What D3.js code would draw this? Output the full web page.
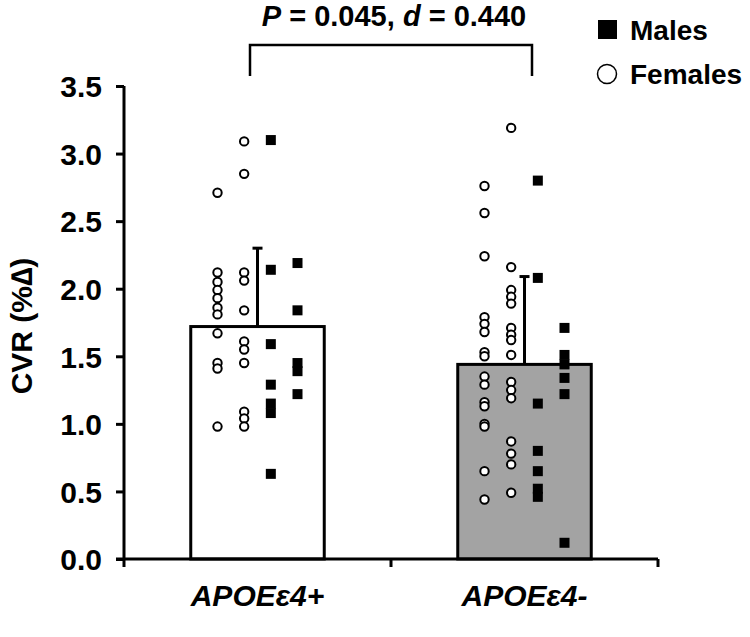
<!DOCTYPE html>
<html><head><meta charset="utf-8">
<script src="https://cdn.jsdelivr.net/npm/d3@7"></script>
<style>body{margin:0;background:#fff}svg{display:block}text{font-family:"Liberation Sans",Arial,sans-serif;font-weight:bold}</style>
</head><body><svg id="c" width="750" height="637"></svg>
<script>
const categories = ["APOEε4+", "APOEε4-"];
const means = [1.72, 1.44];
const sdUpper = [2.30, 2.09];
const barFills = ["#ffffff", "#a3a3a3"];
const yTicks = [0, 0.5, 1.0, 1.5, 2.0, 2.5, 3.0, 3.5];
// females: two columns per group; males: two columns per group
const femalesPosA = [2.71, 2.12, 2.05, 1.99, 1.93, 1.86, 1.81, 1.67, 1.45, 1.41, 0.98];
const femalesPosB = [3.09, 2.85, 2.12, 2.06, 1.84, 1.61, 1.55, 1.45, 1.09, 1.04, 0.98];
const malesPosA = [3.10, 2.14, 1.59, 1.29, 1.15, 1.08, 0.63];
const malesPosB = [2.19, 1.84, 1.45, 1.39, 1.22];
const femalesNegA = [2.76, 2.56, 2.24, 1.79, 1.74, 1.68, 1.53, 1.50, 1.35, 1.29, 1.16, 1.13, 1.00, 0.98, 0.65, 0.44];
const femalesNegB = [3.19, 2.16, 1.99, 1.94, 1.89, 1.71, 1.66, 1.62, 1.51, 1.31, 1.25, 1.19, 0.87, 0.78, 0.70, 0.49];
const malesNegA = [2.80, 2.08, 1.15, 0.80, 0.65, 0.52, 0.46];
const malesNegB = [1.71, 1.51, 1.44, 1.34, 1.22, 0.12];
const annotation = {P: "0.045", d: "0.440"};
const legendLabels = ["Males", "Females"];

const svg = d3.select("#c");
const x = d3.scaleBand().domain(categories).range([124, 658]).padding(0);
const y = d3.scaleLinear().domain([0, 3.5]).range([559, 86]);
const barW = x.bandwidth() * 0.5;
const cx = c => x(c) + x.bandwidth() / 2;
const col = d3.scalePoint().domain([0, 1, 2, 3]).range([-40, 40]);

// bars
svg.selectAll("rect.bar").data(categories).join("rect")
  .attr("x", c => cx(c) - barW / 2).attr("width", barW)
  .attr("y", (c, i) => y(means[i])).attr("height", (c, i) => y(0) - y(means[i]))
  .attr("fill", (c, i) => barFills[i]).attr("stroke", "#000").attr("stroke-width", 3);

// error bars
categories.forEach((c, i) => {
  svg.append("line").attr("x1", cx(c)).attr("x2", cx(c)).attr("y1", y(means[i])).attr("y2", y(sdUpper[i]))
    .attr("stroke", "#000").attr("stroke-width", 3);
  svg.append("line").attr("x1", cx(c) - 5).attr("x2", cx(c) + 5).attr("y1", y(sdUpper[i])).attr("y2", y(sdUpper[i]))
    .attr("stroke", "#000").attr("stroke-width", 3);
});

// points
const groups = [
  [femalesPosA, femalesPosB, malesPosA, malesPosB],
  [femalesNegA, femalesNegB, malesNegA, malesNegB]
];
groups.forEach((g, gi) => {
  g.forEach((vals, ci) => {
    const px = cx(categories[gi]) + col(ci);
    if (ci < 2) {
      svg.append("g").selectAll("circle").data(vals).join("circle")
        .attr("cx", px).attr("cy", v => y(v)).attr("r", 4.2)
        .attr("fill", "#fff").attr("stroke", "#000").attr("stroke-width", 2);
    } else {
      svg.append("g").selectAll("rect").data(vals).join("rect")
        .attr("x", px - 5).attr("y", v => y(v) - 5).attr("width", 10).attr("height", 10).attr("fill", "#000");
    }
  });
});

// y axis
const yAxis = svg.append("g").attr("transform", "translate(124,0)")
  .call(d3.axisLeft(y).tickValues(yTicks).tickFormat(d3.format(".1f")).tickSize(8).tickPadding(14));
yAxis.select(".domain").attr("stroke-width", 3).attr("d", "M0,86V559");
yAxis.selectAll(".tick line").attr("stroke-width", 3);
yAxis.selectAll(".tick text").attr("font-size", 30).attr("fill", "#000").attr("dy", "0.36em");

// x axis
const xAxis = svg.append("g").attr("transform", "translate(0,559)");
xAxis.append("line").attr("x1", 116).attr("x2", 658).attr("y1", 0).attr("y2", 0).attr("stroke", "#000").attr("stroke-width", 3);
const xEdges = [x(categories[0]), x(categories[1]), x(categories[1]) + x.bandwidth()];
xAxis.selectAll("line.t").data(xEdges).join("line").attr("class", "t")
  .attr("x1", d => d).attr("x2", d => d).attr("y1", 0).attr("y2", 8).attr("stroke", "#000").attr("stroke-width", 3);
svg.selectAll("text.xl").data(categories).join("text").attr("class", "xl")
  .attr("x", c => cx(c)).attr("y", 606).attr("text-anchor", "middle")
  .attr("font-size", 30).attr("font-style", "italic").text(c => c);

// y title
svg.append("text").attr("transform", "translate(32,326) rotate(-90)").attr("text-anchor", "middle")
  .attr("font-size", 30).text("CVR (%∆)");

// annotation bracket
const bx1 = 250, bx2 = 532;
svg.append("path").attr("d", `M${bx1},76V45H${bx2}V76`).attr("fill", "none").attr("stroke", "#000").attr("stroke-width", 2.5);
const ann = svg.append("text").attr("x", (bx1 + bx2) / 2 + 3).attr("y", 26).attr("text-anchor", "middle").attr("font-size", 29);
ann.append("tspan").attr("font-style", "italic").text("P");
ann.append("tspan").text(" = " + annotation.P + ", ");
ann.append("tspan").attr("font-style", "italic").text("d");
ann.append("tspan").text(" = " + annotation.d);

// legend
const lg = svg.append("g");
lg.append("rect").attr("x", 598).attr("y", 20).attr("width", 19).attr("height", 19).attr("fill", "#000");
lg.append("circle").attr("cx", 607).attr("cy", 74).attr("r", 9.5).attr("fill", "#fff").attr("stroke", "#000").attr("stroke-width", 1.5);
lg.selectAll("text").data(legendLabels).join("text").attr("x", 630).attr("y", (d, i) => 40 + i * 44)
  .attr("font-size", 28).text(d => d);
</script></body></html>
